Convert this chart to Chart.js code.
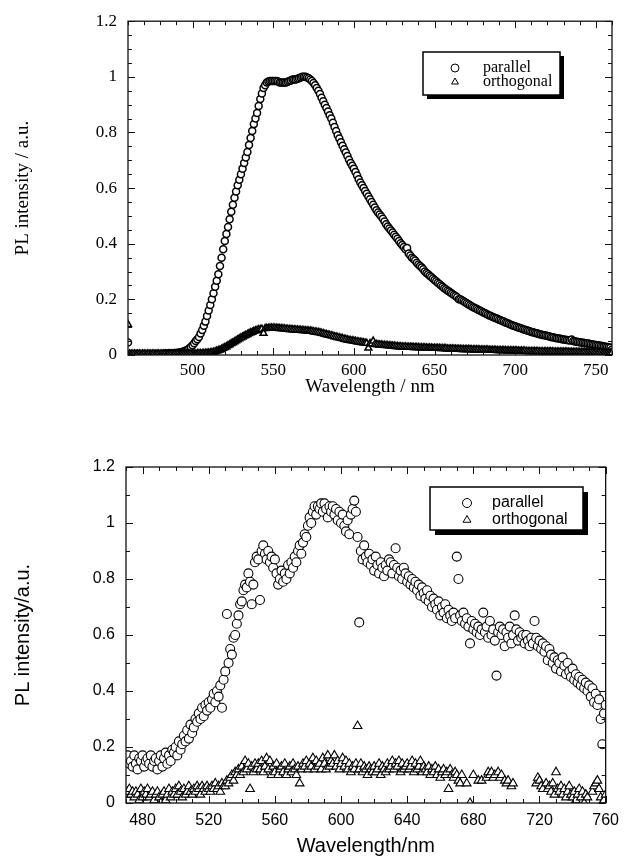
<!DOCTYPE html>
<html>
<head>
<meta charset="utf-8">
<script src="https://cdn.jsdelivr.net/npm/chart.js@4.4.1/dist/chart.umd.min.js"></script>
<style>
  html, body { margin: 0; padding: 0; background: #fff; }
  #wrap { position: relative; width: 627px; height: 858px; }
  .box { position: absolute; left: 0; width: 627px; }
  #topBox { top: 0; height: 425px; }
  #botBox { top: 425px; height: 433px; }
</style>
</head>
<body>
<div id="wrap">
  <div class="box" id="topBox"><canvas id="topChart"></canvas></div>
  <div class="box" id="botBox"><canvas id="botChart"></canvas></div>
</div>
<script>
// ---------- top panel: smooth spectrum (1 nm step) ----------
const topWl = [
  460, 461, 462, 463, 464, 465, 466, 467, 468, 469,
  470, 471, 472, 473, 474, 475, 476, 477, 478, 479,
  480, 481, 482, 483, 484, 485, 486, 487, 488, 489,
  490, 491, 492, 493, 494, 495, 496, 497, 498, 499,
  500, 501, 502, 503, 504, 505, 506, 507, 508, 509,
  510, 511, 512, 513, 514, 515, 516, 517, 518, 519,
  520, 521, 522, 523, 524, 525, 526, 527, 528, 529,
  530, 531, 532, 533, 534, 535, 536, 537, 538, 539,
  540, 541, 542, 543, 544, 545, 546, 547, 548, 549,
  550, 551, 552, 553, 554, 555, 556, 557, 558, 559,
  560, 561, 562, 563, 564, 565, 566, 567, 568, 569,
  570, 571, 572, 573, 574, 575, 576, 577, 578, 579,
  580, 581, 582, 583, 584, 585, 586, 587, 588, 589,
  590, 591, 592, 593, 594, 595, 596, 597, 598, 599,
  600, 601, 602, 603, 604, 605, 606, 607, 608, 609,
  610, 611, 612, 613, 614, 615, 616, 617, 618, 619,
  620, 621, 622, 623, 624, 625, 626, 627, 628, 629,
  630, 631, 632, 633, 634, 635, 636, 637, 638, 639,
  640, 641, 642, 643, 644, 645, 646, 647, 648, 649,
  650, 651, 652, 653, 654, 655, 656, 657, 658, 659,
  660, 661, 662, 663, 664, 665, 666, 667, 668, 669,
  670, 671, 672, 673, 674, 675, 676, 677, 678, 679,
  680, 681, 682, 683, 684, 685, 686, 687, 688, 689,
  690, 691, 692, 693, 694, 695, 696, 697, 698, 699,
  700, 701, 702, 703, 704, 705, 706, 707, 708, 709,
  710, 711, 712, 713, 714, 715, 716, 717, 718, 719,
  720, 721, 722, 723, 724, 725, 726, 727, 728, 729,
  730, 731, 732, 733, 734, 735, 736, 737, 738, 739,
  740, 741, 742, 743, 744, 745, 746, 747, 748, 749,
  750, 751, 752, 753, 754, 755, 756, 757, 758, 759,
  760
];
const topParallel = [
  0.045, 0.004, 0.004, 0.003, 0.003, 0.004, 0.004, 0.003, 0.003, 0.004,
  0.004, 0.003, 0.003, 0.004, 0.004, 0.003, 0.004, 0.004, 0.004, 0.003,
  0.004, 0.004, 0.004, 0.005, 0.005, 0.005, 0.005, 0.006, 0.006, 0.007,
  0.007, 0.008, 0.009, 0.01, 0.012, 0.014, 0.016, 0.019, 0.024, 0.029,
  0.035, 0.042, 0.05, 0.057, 0.065, 0.077, 0.09, 0.105, 0.12, 0.14,
  0.16, 0.18, 0.2, 0.222, 0.245, 0.267, 0.29, 0.32, 0.35, 0.38,
  0.41, 0.435, 0.46, 0.488, 0.515, 0.54, 0.565, 0.588, 0.61, 0.63,
  0.65, 0.67, 0.69, 0.71, 0.73, 0.755, 0.78, 0.805, 0.83, 0.85,
  0.87, 0.895, 0.92, 0.94, 0.96, 0.97, 0.98, 0.983, 0.985, 0.985,
  0.985, 0.985, 0.985, 0.983, 0.98, 0.98, 0.98, 0.98, 0.98, 0.982,
  0.985, 0.987, 0.99, 0.99, 0.99, 0.993, 0.995, 0.998, 1.0, 1.0,
  1.0, 0.998, 0.995, 0.99, 0.985, 0.978, 0.97, 0.96, 0.95, 0.938,
  0.925, 0.912, 0.9, 0.888, 0.875, 0.862, 0.85, 0.835, 0.82, 0.805,
  0.79, 0.778, 0.765, 0.752, 0.74, 0.728, 0.715, 0.702, 0.69, 0.68,
  0.67, 0.658, 0.645, 0.632, 0.62, 0.61, 0.6, 0.59, 0.58, 0.57,
  0.56, 0.55, 0.54, 0.53, 0.52, 0.512, 0.505, 0.498, 0.49, 0.48,
  0.47, 0.462, 0.455, 0.448, 0.44, 0.432, 0.425, 0.418, 0.41, 0.402,
  0.395, 0.388, 0.38, 0.385, 0.365, 0.358, 0.35, 0.345, 0.34, 0.332,
  0.325, 0.32, 0.315, 0.308, 0.3, 0.295, 0.29, 0.285, 0.28, 0.275,
  0.27, 0.265, 0.26, 0.255, 0.25, 0.245, 0.24, 0.236, 0.232, 0.228,
  0.224, 0.22, 0.216, 0.212, 0.208, 0.2, 0.2, 0.197, 0.193, 0.19,
  0.186, 0.182, 0.179, 0.175, 0.172, 0.169, 0.166, 0.163, 0.16, 0.157,
  0.154, 0.151, 0.148, 0.145, 0.142, 0.14, 0.137, 0.135, 0.132, 0.13,
  0.127, 0.125, 0.122, 0.12, 0.117, 0.115, 0.112, 0.11, 0.107, 0.105,
  0.103, 0.101, 0.099, 0.097, 0.095, 0.093, 0.091, 0.089, 0.087, 0.085,
  0.083, 0.082, 0.08, 0.078, 0.077, 0.075, 0.074, 0.072, 0.071, 0.07,
  0.068, 0.067, 0.065, 0.064, 0.063, 0.061, 0.06, 0.059, 0.058, 0.057,
  0.056, 0.055, 0.054, 0.053, 0.052, 0.056, 0.05, 0.049, 0.048, 0.047,
  0.046, 0.045, 0.044, 0.043, 0.042, 0.041, 0.04, 0.039, 0.038, 0.037,
  0.036, 0.035, 0.034, 0.033, 0.032, 0.031, 0.03, 0.029, 0.028, 0.026,
  0.02
];
const topOrthogonal = [
  0.11, 0.004, 0.003, 0.004, 0.004, 0.003, 0.004, 0.004, 0.003, 0.004,
  0.004, 0.003, 0.004, 0.004, 0.003, 0.004, 0.004, 0.003, 0.004, 0.004,
  0.003, 0.004, 0.004, 0.004, 0.003, 0.004, 0.004, 0.004, 0.003, 0.004,
  0.004, 0.004, 0.003, 0.004, 0.004, 0.004, 0.004, 0.004, 0.004, 0.004,
  0.004, 0.004, 0.004, 0.005, 0.005, 0.005, 0.005, 0.006, 0.006, 0.007,
  0.007, 0.008, 0.009, 0.01, 0.012, 0.014, 0.016, 0.018, 0.021, 0.024,
  0.027, 0.03, 0.034, 0.037, 0.041, 0.044, 0.048, 0.051, 0.055, 0.058,
  0.062, 0.065, 0.068, 0.071, 0.074, 0.077, 0.08, 0.082, 0.085, 0.087,
  0.089, 0.091, 0.092, 0.093, 0.078, 0.095, 0.096, 0.096, 0.097, 0.097,
  0.097, 0.097, 0.096, 0.096, 0.095, 0.095, 0.094, 0.094, 0.093, 0.093,
  0.092, 0.092, 0.091, 0.091, 0.09, 0.09, 0.089, 0.089, 0.088, 0.088,
  0.087, 0.087, 0.086, 0.086, 0.085, 0.084, 0.083, 0.082, 0.081, 0.08,
  0.078, 0.077, 0.075, 0.074, 0.072, 0.071, 0.069, 0.068, 0.066, 0.065,
  0.063, 0.062, 0.06, 0.059, 0.057, 0.056, 0.054, 0.053, 0.052, 0.051,
  0.05, 0.049, 0.048, 0.047, 0.046, 0.045, 0.044, 0.043, 0.042, 0.025,
  0.041, 0.04, 0.05, 0.039, 0.038, 0.037, 0.036, 0.036, 0.035, 0.035,
  0.034, 0.034, 0.033, 0.033, 0.032, 0.032, 0.031, 0.031, 0.03, 0.03,
  0.029, 0.029, 0.029, 0.028, 0.028, 0.028, 0.028, 0.027, 0.027, 0.027,
  0.027, 0.026, 0.026, 0.026, 0.026, 0.025, 0.025, 0.025, 0.025, 0.024,
  0.024, 0.024, 0.024, 0.024, 0.023, 0.023, 0.023, 0.023, 0.022, 0.022,
  0.022, 0.022, 0.022, 0.021, 0.021, 0.021, 0.021, 0.02, 0.02, 0.02,
  0.02, 0.02, 0.02, 0.019, 0.019, 0.019, 0.019, 0.019, 0.018, 0.018,
  0.018, 0.018, 0.018, 0.018, 0.017, 0.017, 0.017, 0.017, 0.017, 0.016,
  0.016, 0.016, 0.016, 0.016, 0.016, 0.015, 0.015, 0.015, 0.015, 0.015,
  0.015, 0.015, 0.014, 0.014, 0.014, 0.014, 0.014, 0.013, 0.013, 0.013,
  0.013, 0.013, 0.013, 0.013, 0.013, 0.012, 0.012, 0.012, 0.012, 0.012,
  0.012, 0.012, 0.012, 0.012, 0.011, 0.011, 0.011, 0.011, 0.011, 0.011,
  0.011, 0.011, 0.011, 0.01, 0.01, 0.01, 0.01, 0.01, 0.01, 0.01,
  0.01, 0.01, 0.01, 0.01, 0.009, 0.009, 0.009, 0.009, 0.009, 0.009,
  0.009, 0.009, 0.009, 0.009, 0.008, 0.008, 0.008, 0.008, 0.008, 0.008,
  0.008
];
const topXTicks = [500, 550, 600, 650, 700, 750];
const topYTicks = [0, 0.2, 0.4, 0.6, 0.8, 1, 1.2];

// ---------- bottom panel: noisy spectrum (1 nm step) ----------
const botWl = [
  470, 471, 472, 473, 474, 475, 476, 477, 478, 479,
  480, 481, 482, 483, 484, 485, 486, 487, 488, 489,
  490, 491, 492, 493, 494, 495, 496, 497, 498, 499,
  500, 501, 502, 503, 504, 505, 506, 507, 508, 509,
  510, 511, 512, 513, 514, 515, 516, 517, 518, 519,
  520, 521, 522, 523, 524, 525, 526, 527, 528, 529,
  530, 531, 532, 533, 534, 535, 536, 537, 538, 539,
  540, 541, 542, 543, 544, 545, 546, 547, 548, 549,
  550, 551, 552, 553, 554, 555, 556, 557, 558, 559,
  560, 561, 562, 563, 564, 565, 566, 567, 568, 569,
  570, 571, 572, 573, 574, 575, 576, 577, 578, 579,
  580, 581, 582, 583, 584, 585, 586, 587, 588, 589,
  590, 591, 592, 593, 594, 595, 596, 597, 598, 599,
  600, 601, 602, 603, 604, 605, 606, 607, 608, 609,
  610, 611, 612, 613, 614, 615, 616, 617, 618, 619,
  620, 621, 622, 623, 624, 625, 626, 627, 628, 629,
  630, 631, 632, 633, 634, 635, 636, 637, 638, 639,
  640, 641, 642, 643, 644, 645, 646, 647, 648, 649,
  650, 651, 652, 653, 654, 655, 656, 657, 658, 659,
  660, 661, 662, 663, 664, 665, 666, 667, 668, 669,
  670, 671, 672, 673, 674, 675, 676, 677, 678, 679,
  680, 681, 682, 683, 684, 685, 686, 687, 688, 689,
  690, 691, 692, 693, 694, 695, 696, 697, 698, 699,
  700, 701, 702, 703, 704, 705, 706, 707, 708, 709,
  710, 711, 712, 713, 714, 715, 716, 717, 718, 719,
  720, 721, 722, 723, 724, 725, 726, 727, 728, 729,
  730, 731, 732, 733, 734, 735, 736, 737, 738, 739,
  740, 741, 742, 743, 744, 745, 746, 747, 748, 749,
  750, 751, 752, 753, 754, 755, 756, 757, 758, 759,
  760
];
const botParallel = [
  0.16, 0.17, 0.14, 0.15, 0.13, 0.17, 0.14, 0.12, 0.16, 0.15,
  0.17, 0.13, 0.15, 0.16, 0.14, 0.17, 0.13, 0.15, 0.16, 0.12,
  0.15, 0.17, 0.13, 0.16, 0.18, 0.14, 0.17, 0.15, 0.19, 0.18,
  0.20, 0.17, 0.22, 0.19, 0.21, 0.24, 0.22, 0.26, 0.23, 0.28,
  0.25, 0.27, 0.30, 0.29, 0.32, 0.30, 0.34, 0.31, 0.35, 0.33,
  0.36, 0.34, 0.37, 0.39, 0.36, 0.40, 0.38, 0.42, 0.34, 0.44,
  0.47, 0.675, 0.50, 0.55, 0.53, 0.59, 0.60, 0.64, 0.67, 0.71,
  0.72, 0.76, 0.78, 0.77, 0.82, 0.79, 0.71, 0.78, 0.86, 0.88,
  0.87, 0.725, 0.90, 0.92, 0.89, 0.87, 0.90, 0.86, 0.88, 0.84,
  0.87, 0.82, 0.78, 0.80, 0.83, 0.79, 0.82, 0.80, 0.85, 0.82,
  0.86, 0.84, 0.88, 0.86, 0.90, 0.92, 0.89, 0.93, 0.96, 0.95,
  0.99, 1.02, 1.00, 1.04, 1.06, 1.03, 1.06, 1.05, 1.07, 1.04,
  1.07, 1.05, 1.02, 1.06, 1.04, 1.06, 1.03, 1.05, 1.01, 1.04,
  1.00, 1.03, 0.99, 0.97, 1.01, 0.96, 1.03, 1.05, 1.08, 1.04,
  0.95, 0.645, 0.90, 0.87, 0.92, 0.88, 0.86, 0.89, 0.85, 0.87,
  0.83, 0.88, 0.85, 0.82, 0.86, 0.84, 0.81, 0.85, 0.83, 0.87,
  0.86, 0.82, 0.85, 0.91, 0.84, 0.81, 0.83, 0.80, 0.84, 0.82,
  0.79, 0.81, 0.78, 0.80, 0.77, 0.79, 0.76, 0.78, 0.74, 0.77,
  0.75, 0.73, 0.76, 0.72, 0.74, 0.70, 0.73, 0.71, 0.69, 0.72,
  0.67, 0.70, 0.68, 0.71, 0.66, 0.69, 0.67, 0.65, 0.68, 0.66,
  0.88, 0.80, 0.67, 0.65, 0.68, 0.64, 0.66, 0.63, 0.57, 0.65,
  0.62, 0.64, 0.61, 0.63, 0.60, 0.62, 0.68, 0.61, 0.63, 0.59,
  0.65, 0.60, 0.62, 0.58, 0.455, 0.61, 0.63, 0.60, 0.62, 0.56,
  0.61, 0.59, 0.63, 0.57, 0.60, 0.67, 0.62, 0.58, 0.61, 0.59,
  0.60, 0.57, 0.60, 0.58, 0.56, 0.59, 0.57, 0.65, 0.59, 0.56,
  0.58, 0.55, 0.57, 0.54, 0.56, 0.51, 0.55, 0.53, 0.50, 0.52,
  0.48, 0.51, 0.50, 0.47, 0.52, 0.49, 0.46, 0.50, 0.47, 0.45,
  0.48, 0.44, 0.46, 0.43, 0.45, 0.42, 0.44, 0.41, 0.43, 0.40,
  0.42, 0.38, 0.41, 0.36, 0.39, 0.35, 0.37, 0.30, 0.21, 0.32,
  0.35
];
const botOrthogonal = [
  0.03, 0.04, 0.05, 0.03, 0.04, 0.02, 0.04, 0.03, 0.01, 0.05,
  0.02, 0.04, 0.03, 0.05, 0.02, 0.03, 0.04, 0.01, 0.03, 0.04,
  0.02, 0.0, 0.03, 0.04, 0.01, 0.03, 0.05, 0.02, 0.04, 0.03,
  0.05, 0.03, 0.06, 0.04, 0.02, 0.05, 0.03, 0.04, 0.06, 0.04,
  0.03, 0.05, 0.04, 0.06, 0.05, 0.03, 0.06, 0.05, 0.04, 0.06,
  0.05, 0.04, 0.06, 0.05, 0.07, 0.05, 0.06, 0.04, 0.07, 0.06,
  0.06, 0.08, 0.07, 0.09, 0.10, 0.08, 0.11, 0.10, 0.12, 0.10,
  0.13, 0.11, 0.15, 0.12, 0.14, 0.05, 0.13, 0.11, 0.14, 0.12,
  0.14, 0.12, 0.15, 0.11, 0.13, 0.16, 0.12, 0.15, 0.10, 0.13,
  0.11, 0.14, 0.10, 0.12, 0.13, 0.11, 0.14, 0.10, 0.12, 0.13,
  0.11, 0.14, 0.12, 0.10, 0.13, 0.07, 0.12, 0.14, 0.13, 0.15,
  0.12, 0.14, 0.13, 0.16, 0.12, 0.15, 0.13, 0.14, 0.12, 0.16,
  0.14, 0.12, 0.17, 0.13, 0.15, 0.14, 0.17, 0.13, 0.15, 0.12,
  0.14, 0.16, 0.13, 0.15, 0.12, 0.14, 0.11, 0.13, 0.12, 0.14,
  0.275, 0.12, 0.14, 0.11, 0.13, 0.12, 0.10, 0.13, 0.12, 0.11,
  0.13, 0.11, 0.12, 0.14, 0.10, 0.13, 0.12, 0.11, 0.14, 0.12,
  0.13, 0.15, 0.12, 0.14, 0.13, 0.15, 0.11, 0.14, 0.12, 0.13,
  0.14, 0.12, 0.13, 0.15, 0.11, 0.14, 0.12, 0.13, 0.15, 0.11,
  0.13, 0.12, 0.11, 0.13, 0.10, 0.12, 0.11, 0.13, 0.10, 0.12,
  0.09, 0.11, 0.12, 0.10, 0.11, 0.05, 0.12, 0.10, 0.09, 0.11,
  0.10, 0.08, 0.07, 0.10, null, null, 0.07, null, 0.0, null,
  0.10, null, null, 0.08, null, 0.08, null, null, 0.09, 0.11,
  0.10, 0.11, 0.09, 0.10, null, 0.11, 0.09, 0.10, null, 0.08,
  0.07, 0.08, null, 0.06, 0.07, null, null, null, null, null,
  null, null, null, null, null, null, null, null, 0.07, 0.09,
  0.08, 0.06, 0.05, null, 0.07, 0.05, 0.06, 0.04, 0.07, 0.03,
  0.11, 0.05, 0.04, 0.06, 0.03, 0.05, 0.02, 0.04, 0.06, 0.03,
  0.02, 0.04, 0.01, 0.03, 0.05, 0.02, 0.04, 0.0, 0.03, 0.02,
  null, null, 0.04, 0.06, 0.07, 0.08, 0.05, 0.02, 0.0, 0.01,
  0.03
];
const botXTicks = [480, 520, 560, 600, 640, 680, 720, 760];
const botYTicks = [0, 0.2, 0.4, 0.6, 0.8, 1, 1.2];

// ---------- helpers ----------
function toPoints(xs, ys) {
  return xs.map((x, i) => ({ x: x, y: ys[i] }));
}

// frame round the plot with inward ticks on all four sides
const frameTicks = {
  id: 'frameTicks',
  afterDatasetsDraw(chart, args, o) {
    const { ctx, chartArea: a, scales: { x, y } } = chart;
    ctx.save();
    ctx.strokeStyle = '#111';
    ctx.lineWidth = 1;
    ctx.beginPath();
    const nx = Math.round((x.max - o.xFrom) / o.xMinor);
    for (let i = 0; i <= nx; i++) {
      const v = o.xFrom + i * o.xMinor;
      const px = Math.round(x.getPixelForValue(v)) + 0.5;
      const r = v / o.xMajor;
      const len = Math.abs(r - Math.round(r)) < 1e-6 ? o.majorLen : o.minorLen;
      ctx.moveTo(px, a.bottom); ctx.lineTo(px, a.bottom - len);
      ctx.moveTo(px, a.top); ctx.lineTo(px, a.top + len);
    }
    const ny = Math.round((y.max - y.min) / o.yMinor);
    for (let i = 0; i <= ny; i++) {
      const v = y.min + i * o.yMinor;
      const py = Math.round(y.getPixelForValue(v)) + 0.5;
      const r = v / o.yMajor;
      const len = Math.abs(r - Math.round(r)) < 1e-6 ? o.majorLen : o.minorLen;
      ctx.moveTo(a.left, py); ctx.lineTo(a.left + len, py);
      ctx.moveTo(a.right, py); ctx.lineTo(a.right - len, py);
    }
    ctx.stroke();
    ctx.lineWidth = o.frameWidth;
    ctx.strokeRect(a.left, a.top, a.right - a.left, a.bottom - a.top);
    ctx.restore();
  }
};

// boxed legend with drop shadow, placed inside the plot
const boxLegend = {
  id: 'boxLegend',
  afterDraw(chart, args, o) {
    const ctx = chart.ctx;
    ctx.save();
    ctx.fillStyle = '#000';
    ctx.fillRect(o.x + o.shadow, o.y + o.shadow, o.w, o.h);
    ctx.fillStyle = '#fff';
    ctx.fillRect(o.x, o.y, o.w, o.h);
    ctx.strokeStyle = '#000';
    ctx.lineWidth = 1.5;
    ctx.strokeRect(o.x, o.y, o.w, o.h);
    chart.data.datasets.forEach((ds, i) => {
      const cy = o.y + o.rows[i];
      ctx.fillStyle = '#fff';
      ctx.strokeStyle = '#000';
      ctx.lineWidth = 1;
      Chart.helpers.drawPoint(ctx, { pointStyle: ds.pointStyle, radius: o.symR, rotation: 0, borderWidth: 1 }, o.x + o.symX, cy);
      ctx.fillStyle = '#000';
      ctx.font = o.font;
      ctx.textBaseline = 'middle';
      ctx.textAlign = 'left';
      ctx.fillText(ds.label, o.x + o.textX, cy);
    });
    ctx.restore();
  }
};

function makeScales(c) {
  return {
    x: {
      type: 'linear', min: c.xMin, max: c.xMax,
      afterBuildTicks: s => { s.ticks = c.xTicks.map(v => ({ value: v })); },
      afterFit: s => { s.height = c.xHeight; },
      grid: { display: false, drawTicks: false },
      border: { display: false },
      ticks: { color: '#000', font: c.tickFont, padding: c.xPad, maxRotation: 0, autoSkip: false, callback: v => String(v) },
      title: { display: true, text: c.xTitle, color: '#000', font: c.titleFont, padding: { top: 0, bottom: c.xTitlePad } }
    },
    y: {
      type: 'linear', min: 0, max: 1.2,
      afterBuildTicks: s => { s.ticks = c.yTicks.map(v => ({ value: v })); },
      afterFit: s => { s.width = c.yWidth; },
      grid: { display: false, drawTicks: false },
      border: { display: false },
      ticks: { color: '#000', font: c.tickFont, padding: c.yPad, autoSkip: false, callback: v => String(v) },
      title: { display: true, text: c.yTitle, color: '#000', font: c.titleFont, padding: { top: c.yTitlePad, bottom: 0 } }
    }
  };
}

// ---------- top chart ----------
const serif = "'Liberation Serif', 'Times New Roman', serif";
new Chart(document.getElementById('topChart'), {
  type: 'scatter',
  data: {
    datasets: [
      { label: 'parallel', data: toPoints(topWl, topParallel), pointStyle: 'circle', pointRadius: 3.5,
        backgroundColor: '#fff', borderColor: '#000', borderWidth: 1.5, order: 1 },
      { label: 'orthogonal', data: toPoints(topWl, topOrthogonal), pointStyle: 'triangle', pointRadius: 4,
        backgroundColor: '#fff', borderColor: '#000', borderWidth: 1.5, order: 0 }
    ]
  },
  options: {
    responsive: true, maintainAspectRatio: false, animation: false, devicePixelRatio: 1,
    layout: { padding: { top: 19, right: 15, bottom: 0, left: 0 } },
    scales: makeScales({
      xMin: 460, xMax: 760, xTicks: topXTicks, yTicks: topYTicks,
      xHeight: 70, yWidth: 128, xPad: 5, yPad: 11,
      tickFont: { family: serif, size: 17 },
      titleFont: { family: serif, size: 19 },
      xTitle: 'Wavelength / nm', yTitle: 'PL intensity / a.u.',
      xTitlePad: 27, yTitlePad: 12
    }),
    plugins: {
      legend: { display: false },
      tooltip: { enabled: false },
      frameTicks: { xFrom: 460, xMinor: 10, xMajor: 50, yMinor: 0.05, yMajor: 0.2, majorLen: 7, minorLen: 4, frameWidth: 1.3 },
      boxLegend: { x: 423, y: 52, w: 137, h: 43, shadow: 4, rows: [16, 30], symX: 32, textX: 60, symR: 4,
        font: "16px 'Liberation Serif', serif" }
    }
  },
  plugins: [frameTicks, boxLegend]
});

// ---------- bottom chart ----------
const sans = "'Liberation Sans', Arial, sans-serif";
new Chart(document.getElementById('botChart'), {
  type: 'scatter',
  data: {
    datasets: [
      { label: 'parallel', data: toPoints(botWl, botParallel), pointStyle: 'circle', pointRadius: 4.5,
        backgroundColor: '#fff', borderColor: '#000', borderWidth: 1.1, order: 1 },
      { label: 'orthogonal', data: toPoints(botWl, botOrthogonal), pointStyle: 'triangle', pointRadius: 5,
        backgroundColor: '#fff', borderColor: '#000', borderWidth: 1.1, order: 0 }
    ]
  },
  options: {
    responsive: true, maintainAspectRatio: false, animation: false, devicePixelRatio: 1,
    layout: { padding: { top: 42, right: 16, bottom: 0, left: 0 } },
    scales: makeScales({
      xMin: 470, xMax: 760, xTicks: botXTicks, yTicks: botYTicks,
      xHeight: 55, yWidth: 126, xPad: 8, yPad: 11,
      tickFont: { family: sans, size: 16 },
      titleFont: { family: sans, size: 20 },
      xTitle: 'Wavelength/nm', yTitle: 'PL intensity/a.u.',
      xTitlePad: 0, yTitlePad: 11
    }),
    plugins: {
      legend: { display: false },
      tooltip: { enabled: false },
      frameTicks: { xFrom: 470, xMinor: 10, xMajor: 40, yMinor: 0.1, yMajor: 0.2, majorLen: 7, minorLen: 4, frameWidth: 1.3 },
      boxLegend: { x: 430, y: 62, w: 153, h: 43, shadow: 5, rows: [16, 33], symX: 37, textX: 62, symR: 4.5,
        font: "16px 'Liberation Sans', Arial, sans-serif" }
    }
  },
  plugins: [frameTicks, boxLegend]
});
</script>
</body>
</html>
